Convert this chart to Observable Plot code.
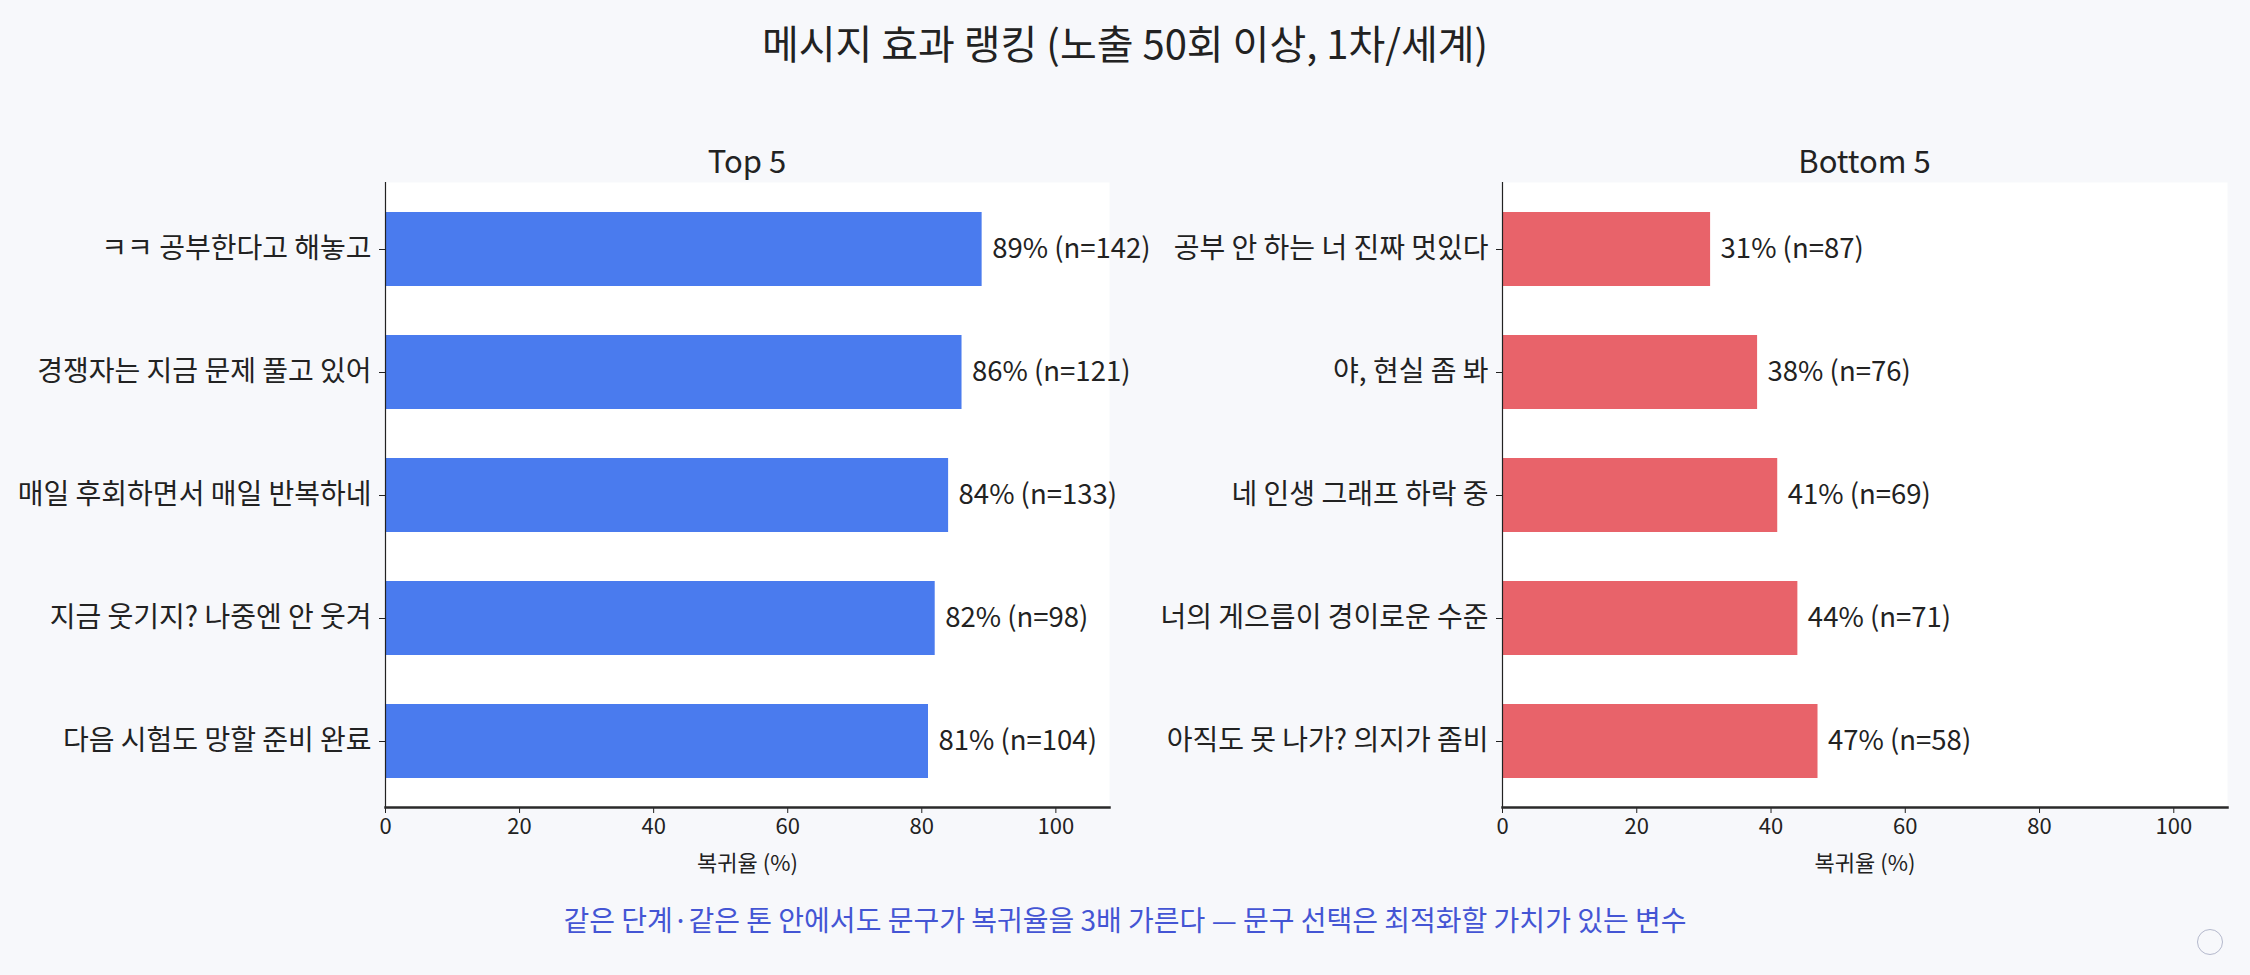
<!DOCTYPE html>
<html>
<head>
<meta charset="utf-8">
<script src="https://cdn.jsdelivr.net/npm/d3@7"></script>
<script src="https://cdn.jsdelivr.net/npm/@observablehq/plot@0.6"></script>
<style>
  html, body { margin: 0; padding: 0; background: #f7f8fb; }
  body { width: 2250px; height: 975px; position: relative; overflow: hidden;
         font-family: "Noto Sans CJK KR", "Noto Sans", sans-serif; color: #222; }
  .abs { position: absolute; }
  #title { left: 0; width: 2250px; top: 18px; text-align: center; font-size: 40px; line-height: 1.2; }
  .ptitle { font-size: 31px; text-align: center; line-height: 1.2; }
  #caption { left: 0; width: 2250px; top: 903px; text-align: center; font-size: 28px; line-height: 1.2; color: #4455d4; }
  #circle { left: 2197px; top: 929px; width: 24px; height: 24px; border: 1.5px solid #b4b8cc; border-radius: 50%; }
</style>
</head>
<body>
<div id="title" class="abs">메시지 효과 랭킹 (노출 50회 이상, 1차/세계)</div>
<div id="t1" class="abs ptitle">Top 5</div>
<div id="t2" class="abs ptitle">Bottom 5</div>
<div id="p1" class="abs"></div>
<div id="p2" class="abs"></div>
<div id="caption" class="abs">같은 단계·같은 톤 안에서도 문구가 복귀율을 3배 가른다 — 문구 선택은 최적화할 가치가 있는 변수</div>
<div id="circle" class="abs"></div>
<script>
const topMessages = ["ㅋㅋ 공부한다고 해놓고", "경쟁자는 지금 문제 풀고 있어", "매일 후회하면서 매일 반복하네", "지금 웃기지? 나중엔 안 웃겨", "다음 시험도 망할 준비 완료"];
const topRates = [89, 86, 84, 82, 81];
const topN = [142, 121, 133, 98, 104];

const bottomMessages = ["공부 안 하는 너 진짜 멋있다", "야, 현실 좀 봐", "네 인생 그래프 하락 중", "너의 게으름이 경이로운 수준", "아직도 못 나가? 의지가 좀비"];
const bottomRates = [31, 38, 41, 44, 47];
const bottomN = [87, 76, 69, 71, 58];

const xTicks = [0, 20, 40, 60, 80, 100];
const xLabel = "복귀율 (%)";

const FONT = "'Noto Sans CJK KR', 'Noto Sans', sans-serif";

function panel(messages, rates, ns, color, opts) {
  const data = messages.map((m, i) => ({msg: m, rate: rates[i], n: ns[i]}));
  const mt = 42, ph = 625, mb = 80;
  return Plot.plot({
    width: opts.width,
    height: mt + ph + mb,
    marginTop: mt,
    marginBottom: mb,
    marginLeft: opts.ml,
    marginRight: opts.mr,
    style: {fontFamily: FONT, background: "transparent", color: "#222", overflow: "visible"},
    x: {domain: [0, 108], ticks: xTicks},
    y: {domain: messages, paddingInner: 0.4, paddingOuter: 0.24},
    marks: [
      Plot.frame({fill: "white", stroke: null}),
      Plot.barX(data, {y: "msg", x: "rate", fill: color}),
      Plot.text(data, {y: "msg", x: "rate", text: d => `${d.rate}% (n=${d.n})`,
        textAnchor: "start", dx: 10, fontSize: 27.5, fill: "#222"}),
      Plot.axisY({tickSize: 6, tickPadding: 8, fontSize: 28, label: null, stroke: "#222"}),
      Plot.axisX({ticks: xTicks, tickSize: 6, tickPadding: 5, fontSize: 22, label: null, stroke: "#222"}),
      Plot.text([xLabel], {frameAnchor: "bottom", dy: 63, fontSize: 22, fill: "#222"}),
      Plot.ruleX([0], {stroke: "#222", strokeWidth: 1.2}),
      Plot.frame({anchor: "bottom", stroke: "#2a2a2a", strokeWidth: 2.5})
    ]
  });
}

const svgTop = 140;
const p1 = document.getElementById("p1");
p1.style.left = "0px"; p1.style.top = svgTop + "px";
p1.appendChild(panel(topMessages, topRates, topN, "#4a7bee", {width: 1130, ml: 385, mr: 21}));

const p2 = document.getElementById("p2");
p2.style.left = "1130px"; p2.style.top = svgTop + "px";
p2.appendChild(panel(bottomMessages, bottomRates, bottomN, "#e8636a", {width: 1120, ml: 372, mr: 23}));

const t1 = document.getElementById("t1");
t1.style.left = "385px"; t1.style.width = (1109 - 385) + "px"; t1.style.top = "141px";
const t2 = document.getElementById("t2");
t2.style.left = "1502px"; t2.style.width = (2227 - 1502) + "px"; t2.style.top = "141px";
</script>
</body>
</html>
